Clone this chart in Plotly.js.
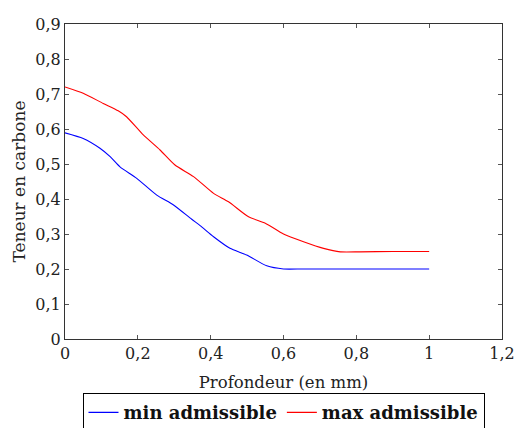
<!DOCTYPE html>
<html>
<head>
<meta charset="utf-8">
<script src="https://cdn.plot.ly/plotly-3.0.1.min.js"></script>
<style>html,body{margin:0;padding:0;background:#fff;}#chart{width:517px;height:428px;}</style>
</head>
<body>
<div id="chart"></div>
<script>
// Depth (mm)
const depthMin = [0, 0.05, 0.096, 0.124, 0.151, 0.197, 0.252, 0.298, 0.348, 0.371, 0.408, 0.453, 0.499, 0.554, 0.6, 0.65, 0.7, 0.8, 0.9, 1.0];
const carbonMin = [0.589, 0.573, 0.545, 0.521, 0.492, 0.459, 0.411, 0.383, 0.342, 0.324, 0.292, 0.259, 0.240, 0.209, 0.200, 0.200, 0.200, 0.200, 0.200, 0.200];
const depthMax = [0, 0.05, 0.105, 0.146, 0.169, 0.215, 0.261, 0.302, 0.353, 0.408, 0.449, 0.504, 0.55, 0.6, 0.655, 0.71, 0.756, 0.81, 0.9, 1.0];
const carbonMax = [0.720, 0.702, 0.673, 0.652, 0.635, 0.583, 0.540, 0.497, 0.464, 0.416, 0.392, 0.349, 0.331, 0.300, 0.278, 0.259, 0.249, 0.249, 0.250, 0.250];
const seriesNames = ["min admissible", "max admissible"];

const font = "'DejaVu Serif', serif";
const traces = [
  {x: depthMin, y: carbonMin, name: seriesNames[0], mode: "lines", line: {color: "#0000ff", width: 1.1, shape: "spline", smoothing: 0.6}},
  {x: depthMax, y: carbonMax, name: seriesNames[1], mode: "lines", line: {color: "#ff0000", width: 1.1, shape: "spline", smoothing: 0.6}}
];
const axisCommon = {
  showgrid: false, zeroline: false, showline: true, linecolor: "#333", linewidth: 1,
  mirror: "ticks", ticks: "inside", ticklen: 4, tickcolor: "#555", tickwidth: 1,
  tickfont: {family: font, size: 16, color: "#222"}, automargin: false
};
const layout = {
  width: 517, height: 428,
  margin: {l: 65, r: 15, t: 24, b: 89, autoexpand: false},
  paper_bgcolor: "#fff", plot_bgcolor: "#fff",
  separators: ", ",
  font: {family: font, color: "#222"},
  xaxis: Object.assign({}, axisCommon, {range: [0, 1.2], dtick: 0.2, tick0: 0,
    title: {text: "Profondeur (en mm)", font: {family: font, size: 16.5, color: "#222"}, standoff: 14}}),
  yaxis: Object.assign({}, axisCommon, {range: [0, 0.9], dtick: 0.1, tick0: 0,
    title: {text: "Teneur en carbone", font: {family: font, size: 17, color: "#222"}, standoff: 5}}),
  showlegend: true,
  legend: {orientation: "h", x: 0.5, xanchor: "center", y: -0.172, yanchor: "top",
    bordercolor: "#000", borderwidth: 1, bgcolor: "#fff",
    font: {family: font, size: 18, color: "#111", weight: "bold"},
    itemwidth: 30, tracegroupgap: 0}
};
Plotly.newPlot("chart", traces, layout, {displayModeBar: false, staticPlot: true});
</script>
</body>
</html>
